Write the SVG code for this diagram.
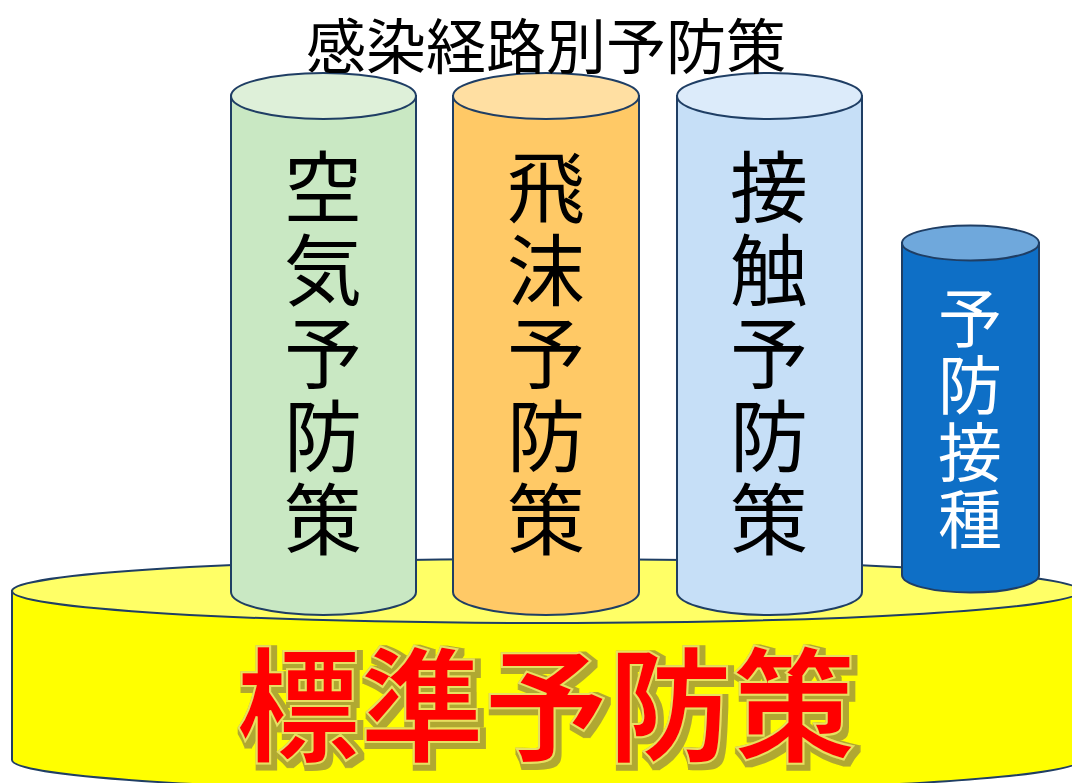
<svg xmlns="http://www.w3.org/2000/svg" width="1072" height="783" viewBox="0 0 1072 783">
<defs>
<filter id="shadow" x="-10%" y="-10%" width="120%" height="130%">
<feMorphology in="SourceAlpha" operator="dilate" radius="3" result="d"/>
<feOffset in="d" dx="3" dy="3" result="o"/>
<feFlood flood-color="#B0A830"/>
<feComposite in2="o" operator="in" result="s"/>
<feMerge><feMergeNode in="s"/><feMergeNode in="SourceGraphic"/></feMerge>
</filter>
</defs>
<style>
.edge{stroke:#1F3E64;stroke-width:2}
.jp{font-family:"Noto Sans CJK JP","Noto Sans",sans-serif;text-anchor:middle}
.v{writing-mode:vertical-rl;text-orientation:upright}
.col{font-size:78px;fill:#000;letter-spacing:5px}
.vac{font-size:64px;fill:#fff;letter-spacing:3px}
.title{font-size:60px;fill:#000;dominant-baseline:central}
.big{font-size:124px;font-weight:bold;dominant-baseline:central}
</style>
<rect width="1072" height="783" fill="#fff"/>
<g id="base">
<path class="edge" d="M12,591 L12,760 A534,32 0 0 0 1080,760 L1080,591 Z" fill="#FFFF00"/>
<ellipse class="edge" cx="546" cy="591" rx="534" ry="32" fill="#FFFF66"/>
<text class="jp big" x="546" y="698" fill="#FF0000" stroke="#E8E060" stroke-width="2" filter="url(#shadow)">標準予防策</text>
</g>
<g id="airborne">
<path class="edge" d="M231,96 L231,592 A92.5,23 0 0 0 416,592 L416,96 Z" fill="#C9E8C3"/>
<ellipse class="edge" cx="323.5" cy="96" rx="92.5" ry="23" fill="#DEF0D9"/>
<text class="jp col v" x="323" y="356">空気予防策</text>
</g>
<g id="droplet">
<path class="edge" d="M453,96 L453,592 A93,23 0 0 0 639,592 L639,96 Z" fill="#FFC966"/>
<ellipse class="edge" cx="546" cy="96" rx="93" ry="23" fill="#FFDFA2"/>
<text class="jp col v" x="546" y="356">飛沫予防策</text>
</g>
<g id="contact">
<path class="edge" d="M677,96 L677,592 A92.5,23 0 0 0 862,592 L862,96 Z" fill="#C6DFF7"/>
<ellipse class="edge" cx="769.5" cy="96" rx="92.5" ry="23" fill="#DCEBFA"/>
<text class="jp col v" x="769" y="356">接触予防策</text>
</g>
<g id="vaccination">
<path class="edge" d="M902,243 L902,575 A68.5,17.5 0 0 0 1039,575 L1039,243 Z" fill="#0E6FC6"/>
<ellipse class="edge" cx="970.5" cy="243" rx="68.5" ry="17.5" fill="#6FA8DC"/>
<text class="jp vac v" x="970" y="420">予防接種</text>
</g>
<g id="connectors"></g>
<text class="jp title" x="546" y="42">感染経路別予防策</text>
</svg>
